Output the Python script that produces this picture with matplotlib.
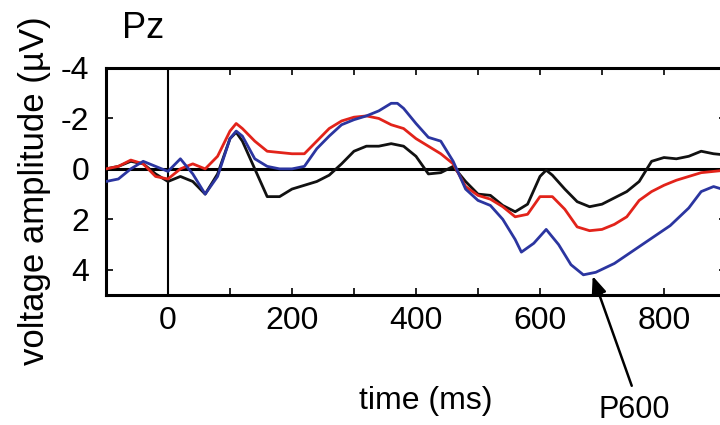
import matplotlib
matplotlib.use('Agg')
import matplotlib.pyplot as plt

# ERP at Pz, three conditions (values in microvolts, negative up)
time_black = [-100, -80, -60, -40, -20, 0, 20, 40, 60, 80, 100, 110, 120, 140, 160, 180, 200,
              220, 240, 260, 280, 300, 320, 340, 360, 380, 400, 420, 440, 460, 480, 500, 520,
              540, 560, 580, 600, 610, 620, 640, 660, 680, 700, 720, 740, 760, 780, 800, 820,
              840, 860, 880, 900]
amp_black = [0.0, -0.1, -0.3, -0.2, 0.2, 0.5, 0.3, 0.5, 1.0, 0.2, -1.2, -1.45, -1.1, 0.0, 1.1,
             1.1, 0.8, 0.65, 0.5, 0.25, -0.2, -0.7, -0.9, -0.9, -1.0, -0.9, -0.5, 0.2, 0.15,
             -0.1, 0.5, 1.0, 1.05, 1.45, 1.7, 1.4, 0.3, 0.05, 0.25, 0.8, 1.3, 1.5, 1.4, 1.15,
             0.9, 0.5, -0.3, -0.45, -0.4, -0.5, -0.7, -0.6, -0.55]

time_red = [-100, -80, -60, -40, -20, 0, 20, 40, 60, 80, 100, 110, 120, 140, 160, 180, 200,
            220, 240, 260, 280, 300, 320, 340, 360, 380, 400, 420, 440, 460, 480, 500, 520,
            540, 560, 580, 600, 620, 640, 660, 680, 700, 720, 740, 760, 780, 800, 820, 840,
            860, 880, 900]
amp_red = [0.0, -0.1, -0.35, -0.2, 0.3, 0.4, 0.0, -0.2, 0.0, -0.5, -1.5, -1.8, -1.6, -1.1,
           -0.7, -0.65, -0.6, -0.6, -1.1, -1.6, -1.9, -2.05, -2.1, -2.0, -1.75, -1.6, -1.2,
           -0.9, -0.6, -0.2, 0.7, 1.05, 1.2, 1.5, 1.9, 1.8, 1.1, 1.1, 1.6, 2.3, 2.45, 2.4,
           2.2, 1.9, 1.25, 0.9, 0.65, 0.45, 0.3, 0.15, 0.1, 0.05]

time_blue = [-100, -80, -60, -40, -20, 0, 20, 40, 60, 80, 100, 110, 120, 140, 160, 180, 200,
             220, 240, 260, 280, 300, 320, 340, 360, 370, 380, 400, 420, 440, 460, 480, 500,
             520, 540, 560, 570, 590, 610, 630, 650, 670, 690, 720, 750, 780, 810, 840, 860,
             880, 900]
amp_blue = [0.5, 0.4, 0.0, -0.3, -0.1, 0.1, -0.4, 0.2, 1.0, 0.3, -1.2, -1.5, -1.3, -0.4, -0.1,
            0.0, 0.0, -0.1, -0.8, -1.3, -1.75, -1.95, -2.1, -2.3, -2.6, -2.6, -2.4, -1.8,
            -1.25, -1.1, -0.3, 0.8, 1.25, 1.45, 2.0, 2.8, 3.3, 2.95, 2.4, 3.0, 3.8, 4.2, 4.1,
            3.75, 3.25, 2.75, 2.25, 1.55, 0.9, 0.7, 0.85]

x_ticks = [0, 200, 400, 600, 800]
y_ticks = [-4, -2, 0, 2, 4]

# P600 arrow: tip on the blue trough, tail down near the label
p600_tip = (685, 4.25)
p600_tail = (748, 8.6)
p600_label = (752, 8.95)

plt.rcParams['font.family'] = ['Liberation Sans', 'DejaVu Sans']
plt.rcParams['axes.unicode_minus'] = False

fig = plt.figure(figsize=(7.2, 4.25), dpi=100)
ax = fig.add_axes([0.1472, 0.3059, 0.8611, 0.5341])

ax.axhline(0, color='black', lw=2.2, zorder=1)
ax.axvline(0, color='black', lw=1.5, zorder=1)

ax.plot(time_black, amp_black, color='#111111', lw=2.0, zorder=3)
ax.plot(time_red, amp_red, color='#e2231a', lw=2.0, zorder=3)
ax.plot(time_blue, amp_blue, color='#2b35a0', lw=2.0, zorder=3)

ax.set_xlim(-100, 900)
ax.set_ylim(5, -4)
ax.set_xticks(x_ticks)
ax.set_xticks(range(-100, 901, 100), minor=True)
ax.set_yticks(y_ticks)
ax.tick_params(direction='in', length=5, width=1.2, labelsize=23, top=True, right=True)
ax.tick_params(axis='x', which='minor', direction='in', length=5, width=1.2, top=True)
ax.tick_params(axis='y', pad=12)
ax.tick_params(axis='x', pad=8)
for s in ax.spines.values():
    s.set_linewidth(2.2)

ax.set_xlabel('time (ms)', fontsize=23)
ax.xaxis.set_label_coords(0.516, -0.40)
ax.set_ylabel('voltage amplitude (µV)', fontsize=25)
ax.yaxis.set_label_coords(-0.088, 0.46)

fig.text(122 / 720, 1 - 38 / 425, 'Pz', fontsize=26, ha='left', va='baseline')

ax.annotate('', xy=p600_tip, xytext=p600_tail, annotation_clip=False,
            arrowprops=dict(arrowstyle='-|>,head_length=1.1,head_width=0.45',
                            color='black', lw=1.8, shrinkA=0, shrinkB=0))
ax.text(p600_label[0], p600_label[1], 'P600', fontsize=22, ha='center', va='top', clip_on=False)

fig.savefig('out.png', dpi=100)
